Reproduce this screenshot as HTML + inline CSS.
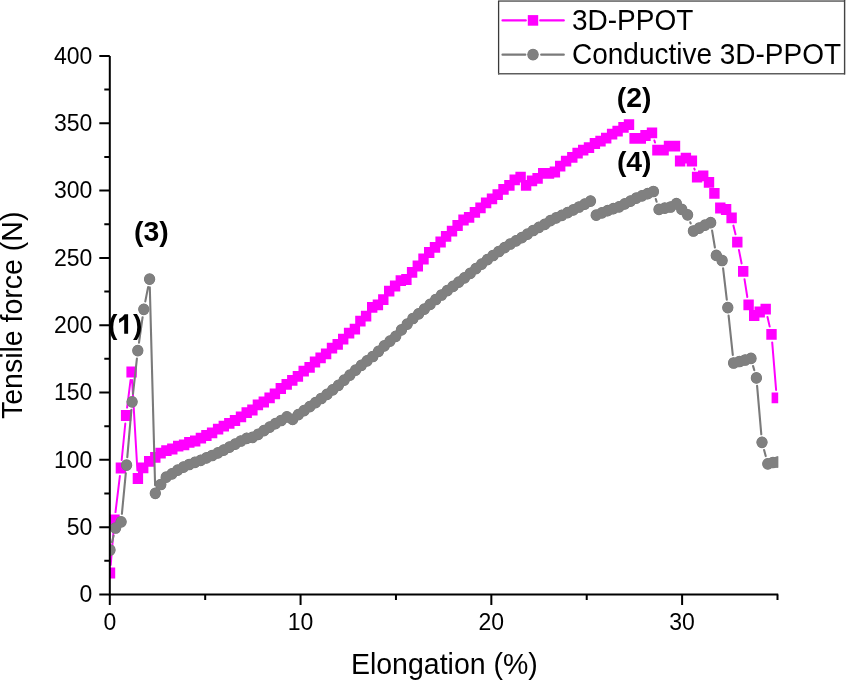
<!DOCTYPE html>
<html><head><meta charset="utf-8"><style>
html,body{margin:0;padding:0;background:#fff;}
body{width:846px;height:681px;overflow:hidden;}
svg{display:block;will-change:transform;font-family:"Liberation Sans",sans-serif;}
</style></head><body>
<svg width="846" height="681" viewBox="0 0 846 681">
<defs><clipPath id="c"><rect x="109.8" y="40" width="668.4" height="554.5"/></clipPath></defs>
<g clip-path="url(#c)">
<path d="M110.7 565.0L113.8 528.0M115.5 512.1L119.9 475.9M121.7 460.0L125.3 423.5M127.1 407.6L130.6 379.9M132.1 380.0L137.4 470.5M654.4 140.5L655.0 142.6M694.3 168.6L694.7 169.6M733.4 225.6L735.5 234.3M738.9 249.9L741.6 263.5M744.5 279.2L747.3 297.0M767.5 317.0L769.7 326.6M772.2 342.4L776.1 389.9" stroke="#ff00ff" stroke-width="2" stroke-linecap="round" fill="none"/>
<path d="M104.80 567.60h10.4v10.8h-10.4zM109.30 514.60h10.4v10.8h-10.4zM115.70 462.60h10.4v10.8h-10.4zM120.90 410.10h10.4v10.8h-10.4zM126.40 366.60h10.4v10.8h-10.4zM132.70 473.10h10.4v10.8h-10.4zM138.00 462.50h10.4v10.8h-10.4zM144.00 455.90h10.4v10.8h-10.4zM150.10 451.90h10.4v10.8h-10.4zM155.40 447.80h10.4v10.8h-10.4zM161.20 445.20h10.4v10.8h-10.4zM167.10 443.60h10.4v10.8h-10.4zM173.00 440.70h10.4v10.8h-10.4zM178.90 439.50h10.4v10.8h-10.4zM184.10 437.00h10.4v10.8h-10.4zM190.00 435.60h10.4v10.8h-10.4zM195.70 432.70h10.4v10.8h-10.4zM201.20 430.10h10.4v10.8h-10.4zM206.90 427.50h10.4v10.8h-10.4zM212.90 423.70h10.4v10.8h-10.4zM218.60 420.80h10.4v10.8h-10.4zM224.10 417.90h10.4v10.8h-10.4zM229.80 415.10h10.4v10.8h-10.4zM235.80 411.40h10.4v10.8h-10.4zM241.50 407.30h10.4v10.8h-10.4zM247.20 404.60h10.4v10.8h-10.4zM252.70 399.50h10.4v10.8h-10.4zM258.60 396.60h10.4v10.8h-10.4zM264.40 392.50h10.4v10.8h-10.4zM269.70 388.40h10.4v10.8h-10.4zM275.60 383.10h10.4v10.8h-10.4zM281.50 379.00h10.4v10.8h-10.4zM287.10 374.90h10.4v10.8h-10.4zM292.70 371.00h10.4v10.8h-10.4zM298.50 365.80h10.4v10.8h-10.4zM304.40 361.90h10.4v10.8h-10.4zM309.80 356.60h10.4v10.8h-10.4zM315.40 352.50h10.4v10.8h-10.4zM320.90 348.40h10.4v10.8h-10.4zM326.80 342.80h10.4v10.8h-10.4zM332.50 339.00h10.4v10.8h-10.4zM338.00 333.70h10.4v10.8h-10.4zM343.90 327.80h10.4v10.8h-10.4zM349.70 323.70h10.4v10.8h-10.4zM355.20 315.80h10.4v10.8h-10.4zM360.90 310.80h10.4v10.8h-10.4zM367.00 302.00h10.4v10.8h-10.4zM372.70 299.40h10.4v10.8h-10.4zM378.10 294.20h10.4v10.8h-10.4zM384.00 285.80h10.4v10.8h-10.4zM389.90 280.60h10.4v10.8h-10.4zM395.60 275.30h10.4v10.8h-10.4zM401.20 274.10h10.4v10.8h-10.4zM406.90 267.00h10.4v10.8h-10.4zM412.60 260.60h10.4v10.8h-10.4zM418.30 253.60h10.4v10.8h-10.4zM424.00 247.10h10.4v10.8h-10.4zM429.80 241.90h10.4v10.8h-10.4zM435.40 236.60h10.4v10.8h-10.4zM440.90 230.90h10.4v10.8h-10.4zM446.80 225.80h10.4v10.8h-10.4zM452.40 220.10h10.4v10.8h-10.4zM458.30 214.60h10.4v10.8h-10.4zM463.90 211.90h10.4v10.8h-10.4zM469.70 206.90h10.4v10.8h-10.4zM475.30 202.50h10.4v10.8h-10.4zM480.90 197.50h10.4v10.8h-10.4zM486.80 193.50h10.4v10.8h-10.4zM492.50 189.20h10.4v10.8h-10.4zM498.30 184.00h10.4v10.8h-10.4zM504.20 179.90h10.4v10.8h-10.4zM509.50 174.50h10.4v10.8h-10.4zM515.40 171.70h10.4v10.8h-10.4zM520.90 179.90h10.4v10.8h-10.4zM526.80 175.40h10.4v10.8h-10.4zM532.40 172.90h10.4v10.8h-10.4zM538.00 167.90h10.4v10.8h-10.4zM543.80 167.90h10.4v10.8h-10.4zM549.70 166.60h10.4v10.8h-10.4zM555.00 160.70h10.4v10.8h-10.4zM560.90 155.70h10.4v10.8h-10.4zM567.10 152.00h10.4v10.8h-10.4zM572.40 147.80h10.4v10.8h-10.4zM578.00 144.80h10.4v10.8h-10.4zM583.80 142.20h10.4v10.8h-10.4zM589.70 138.10h10.4v10.8h-10.4zM595.30 135.70h10.4v10.8h-10.4zM601.00 132.80h10.4v10.8h-10.4zM606.90 128.70h10.4v10.8h-10.4zM612.40 125.70h10.4v10.8h-10.4zM618.30 122.00h10.4v10.8h-10.4zM623.80 119.30h10.4v10.8h-10.4zM629.40 132.90h10.4v10.8h-10.4zM635.60 132.90h10.4v10.8h-10.4zM640.30 130.10h10.4v10.8h-10.4zM646.80 127.50h10.4v10.8h-10.4zM652.20 144.80h10.4v10.8h-10.4zM658.40 144.80h10.4v10.8h-10.4zM663.80 140.70h10.4v10.8h-10.4zM669.80 140.80h10.4v10.8h-10.4zM674.90 155.60h10.4v10.8h-10.4zM680.70 152.70h10.4v10.8h-10.4zM686.70 155.60h10.4v10.8h-10.4zM691.90 171.80h10.4v10.8h-10.4zM698.00 170.40h10.4v10.8h-10.4zM703.80 177.00h10.4v10.8h-10.4zM709.20 188.00h10.4v10.8h-10.4zM715.10 202.60h10.4v10.8h-10.4zM720.90 204.10h10.4v10.8h-10.4zM726.40 212.40h10.4v10.8h-10.4zM732.10 236.70h10.4v10.8h-10.4zM738.00 265.90h10.4v10.8h-10.4zM743.40 299.50h10.4v10.8h-10.4zM749.00 310.10h10.4v10.8h-10.4zM754.50 306.60h10.4v10.8h-10.4zM760.50 303.80h10.4v10.8h-10.4zM766.30 329.00h10.4v10.8h-10.4zM771.60 392.50h10.4v10.8h-10.4z" fill="#ff00ff"/>
<path d="M112.0 542.2L113.6 535.8M121.9 513.8L125.8 473.2M127.3 457.2L131.4 409.8M133.0 393.8L136.9 358.6M139.0 342.7L142.6 317.2M145.3 301.4L148.1 287.1M149.8 287.2L155.1 485.3M655.8 199.1L656.6 201.8M690.3 222.3L690.7 223.5M712.1 230.6L714.9 247.5M723.1 268.4L726.8 299.7M728.6 315.6L732.8 355.0M753.1 366.1L754.3 370.2M757.1 385.9L761.3 434.3M764.1 450.0L765.7 456.1" stroke="#7a7a7a" stroke-width="2.1" stroke-linecap="round" fill="none"/>
<path d="M104.35 550.0a5.65 5.85 0 1 0 11.30 0a5.65 5.85 0 1 0 -11.30 0zM109.95 528.0a5.65 5.85 0 1 0 11.30 0a5.65 5.85 0 1 0 -11.30 0zM115.45 521.8a5.65 5.85 0 1 0 11.30 0a5.65 5.85 0 1 0 -11.30 0zM120.95 465.2a5.65 5.85 0 1 0 11.30 0a5.65 5.85 0 1 0 -11.30 0zM126.45 401.8a5.65 5.85 0 1 0 11.30 0a5.65 5.85 0 1 0 -11.30 0zM132.15 350.6a5.65 5.85 0 1 0 11.30 0a5.65 5.85 0 1 0 -11.30 0zM138.15 309.3a5.65 5.85 0 1 0 11.30 0a5.65 5.85 0 1 0 -11.30 0zM143.95 279.2a5.65 5.85 0 1 0 11.30 0a5.65 5.85 0 1 0 -11.30 0zM149.65 493.3a5.65 5.85 0 1 0 11.30 0a5.65 5.85 0 1 0 -11.30 0zM155.15 484.5a5.65 5.85 0 1 0 11.30 0a5.65 5.85 0 1 0 -11.30 0zM160.55 477.2a5.65 5.85 0 1 0 11.30 0a5.65 5.85 0 1 0 -11.30 0zM166.30 473.8a5.65 5.85 0 1 0 11.30 0a5.65 5.85 0 1 0 -11.30 0zM172.05 470.2a5.65 5.85 0 1 0 11.30 0a5.65 5.85 0 1 0 -11.30 0zM177.79 467.1a5.65 5.85 0 1 0 11.30 0a5.65 5.85 0 1 0 -11.30 0zM183.54 464.5a5.65 5.85 0 1 0 11.30 0a5.65 5.85 0 1 0 -11.30 0zM189.29 462.3a5.65 5.85 0 1 0 11.30 0a5.65 5.85 0 1 0 -11.30 0zM195.04 460.3a5.65 5.85 0 1 0 11.30 0a5.65 5.85 0 1 0 -11.30 0zM200.78 457.9a5.65 5.85 0 1 0 11.30 0a5.65 5.85 0 1 0 -11.30 0zM206.53 455.5a5.65 5.85 0 1 0 11.30 0a5.65 5.85 0 1 0 -11.30 0zM212.28 452.9a5.65 5.85 0 1 0 11.30 0a5.65 5.85 0 1 0 -11.30 0zM218.03 450.1a5.65 5.85 0 1 0 11.30 0a5.65 5.85 0 1 0 -11.30 0zM223.77 447.1a5.65 5.85 0 1 0 11.30 0a5.65 5.85 0 1 0 -11.30 0zM229.52 444.1a5.65 5.85 0 1 0 11.30 0a5.65 5.85 0 1 0 -11.30 0zM235.27 441.0a5.65 5.85 0 1 0 11.30 0a5.65 5.85 0 1 0 -11.30 0zM241.02 438.3a5.65 5.85 0 1 0 11.30 0a5.65 5.85 0 1 0 -11.30 0zM246.76 437.4a5.65 5.85 0 1 0 11.30 0a5.65 5.85 0 1 0 -11.30 0zM252.51 434.3a5.65 5.85 0 1 0 11.30 0a5.65 5.85 0 1 0 -11.30 0zM258.26 430.6a5.65 5.85 0 1 0 11.30 0a5.65 5.85 0 1 0 -11.30 0zM264.01 427.1a5.65 5.85 0 1 0 11.30 0a5.65 5.85 0 1 0 -11.30 0zM269.75 423.7a5.65 5.85 0 1 0 11.30 0a5.65 5.85 0 1 0 -11.30 0zM275.50 420.5a5.65 5.85 0 1 0 11.30 0a5.65 5.85 0 1 0 -11.30 0zM281.25 416.8a5.65 5.85 0 1 0 11.30 0a5.65 5.85 0 1 0 -11.30 0zM286.95 419.4a5.65 5.85 0 1 0 11.30 0a5.65 5.85 0 1 0 -11.30 0zM292.68 414.6a5.65 5.85 0 1 0 11.30 0a5.65 5.85 0 1 0 -11.30 0zM298.41 410.6a5.65 5.85 0 1 0 11.30 0a5.65 5.85 0 1 0 -11.30 0zM304.14 406.6a5.65 5.85 0 1 0 11.30 0a5.65 5.85 0 1 0 -11.30 0zM309.87 402.7a5.65 5.85 0 1 0 11.30 0a5.65 5.85 0 1 0 -11.30 0zM315.59 398.5a5.65 5.85 0 1 0 11.30 0a5.65 5.85 0 1 0 -11.30 0zM321.32 394.4a5.65 5.85 0 1 0 11.30 0a5.65 5.85 0 1 0 -11.30 0zM327.05 389.8a5.65 5.85 0 1 0 11.30 0a5.65 5.85 0 1 0 -11.30 0zM332.78 385.3a5.65 5.85 0 1 0 11.30 0a5.65 5.85 0 1 0 -11.30 0zM338.51 380.2a5.65 5.85 0 1 0 11.30 0a5.65 5.85 0 1 0 -11.30 0zM344.24 375.2a5.65 5.85 0 1 0 11.30 0a5.65 5.85 0 1 0 -11.30 0zM349.97 370.2a5.65 5.85 0 1 0 11.30 0a5.65 5.85 0 1 0 -11.30 0zM355.70 365.3a5.65 5.85 0 1 0 11.30 0a5.65 5.85 0 1 0 -11.30 0zM361.43 360.8a5.65 5.85 0 1 0 11.30 0a5.65 5.85 0 1 0 -11.30 0zM367.15 356.5a5.65 5.85 0 1 0 11.30 0a5.65 5.85 0 1 0 -11.30 0zM372.88 351.3a5.65 5.85 0 1 0 11.30 0a5.65 5.85 0 1 0 -11.30 0zM378.61 345.9a5.65 5.85 0 1 0 11.30 0a5.65 5.85 0 1 0 -11.30 0zM384.34 341.1a5.65 5.85 0 1 0 11.30 0a5.65 5.85 0 1 0 -11.30 0zM390.07 336.3a5.65 5.85 0 1 0 11.30 0a5.65 5.85 0 1 0 -11.30 0zM395.80 329.9a5.65 5.85 0 1 0 11.30 0a5.65 5.85 0 1 0 -11.30 0zM401.53 324.2a5.65 5.85 0 1 0 11.30 0a5.65 5.85 0 1 0 -11.30 0zM407.26 318.5a5.65 5.85 0 1 0 11.30 0a5.65 5.85 0 1 0 -11.30 0zM412.98 313.8a5.65 5.85 0 1 0 11.30 0a5.65 5.85 0 1 0 -11.30 0zM418.71 309.2a5.65 5.85 0 1 0 11.30 0a5.65 5.85 0 1 0 -11.30 0zM424.44 304.4a5.65 5.85 0 1 0 11.30 0a5.65 5.85 0 1 0 -11.30 0zM430.17 299.5a5.65 5.85 0 1 0 11.30 0a5.65 5.85 0 1 0 -11.30 0zM435.90 295.0a5.65 5.85 0 1 0 11.30 0a5.65 5.85 0 1 0 -11.30 0zM441.63 290.6a5.65 5.85 0 1 0 11.30 0a5.65 5.85 0 1 0 -11.30 0zM447.36 286.4a5.65 5.85 0 1 0 11.30 0a5.65 5.85 0 1 0 -11.30 0zM453.09 282.2a5.65 5.85 0 1 0 11.30 0a5.65 5.85 0 1 0 -11.30 0zM458.82 277.8a5.65 5.85 0 1 0 11.30 0a5.65 5.85 0 1 0 -11.30 0zM464.54 273.4a5.65 5.85 0 1 0 11.30 0a5.65 5.85 0 1 0 -11.30 0zM470.27 268.6a5.65 5.85 0 1 0 11.30 0a5.65 5.85 0 1 0 -11.30 0zM476.00 264.1a5.65 5.85 0 1 0 11.30 0a5.65 5.85 0 1 0 -11.30 0zM481.73 259.6a5.65 5.85 0 1 0 11.30 0a5.65 5.85 0 1 0 -11.30 0zM487.46 255.5a5.65 5.85 0 1 0 11.30 0a5.65 5.85 0 1 0 -11.30 0zM493.19 251.5a5.65 5.85 0 1 0 11.30 0a5.65 5.85 0 1 0 -11.30 0zM498.92 247.7a5.65 5.85 0 1 0 11.30 0a5.65 5.85 0 1 0 -11.30 0zM504.65 244.0a5.65 5.85 0 1 0 11.30 0a5.65 5.85 0 1 0 -11.30 0zM510.38 240.8a5.65 5.85 0 1 0 11.30 0a5.65 5.85 0 1 0 -11.30 0zM516.10 237.7a5.65 5.85 0 1 0 11.30 0a5.65 5.85 0 1 0 -11.30 0zM521.83 234.2a5.65 5.85 0 1 0 11.30 0a5.65 5.85 0 1 0 -11.30 0zM527.56 230.5a5.65 5.85 0 1 0 11.30 0a5.65 5.85 0 1 0 -11.30 0zM533.29 227.3a5.65 5.85 0 1 0 11.30 0a5.65 5.85 0 1 0 -11.30 0zM539.02 224.4a5.65 5.85 0 1 0 11.30 0a5.65 5.85 0 1 0 -11.30 0zM544.75 220.7a5.65 5.85 0 1 0 11.30 0a5.65 5.85 0 1 0 -11.30 0zM550.48 217.9a5.65 5.85 0 1 0 11.30 0a5.65 5.85 0 1 0 -11.30 0zM556.21 215.3a5.65 5.85 0 1 0 11.30 0a5.65 5.85 0 1 0 -11.30 0zM561.93 212.6a5.65 5.85 0 1 0 11.30 0a5.65 5.85 0 1 0 -11.30 0zM567.66 209.9a5.65 5.85 0 1 0 11.30 0a5.65 5.85 0 1 0 -11.30 0zM573.39 207.0a5.65 5.85 0 1 0 11.30 0a5.65 5.85 0 1 0 -11.30 0zM579.12 204.1a5.65 5.85 0 1 0 11.30 0a5.65 5.85 0 1 0 -11.30 0zM584.85 201.1a5.65 5.85 0 1 0 11.30 0a5.65 5.85 0 1 0 -11.30 0zM590.55 215.2a5.65 5.85 0 1 0 11.30 0a5.65 5.85 0 1 0 -11.30 0zM596.27 212.8a5.65 5.85 0 1 0 11.30 0a5.65 5.85 0 1 0 -11.30 0zM601.99 210.7a5.65 5.85 0 1 0 11.30 0a5.65 5.85 0 1 0 -11.30 0zM607.71 208.7a5.65 5.85 0 1 0 11.30 0a5.65 5.85 0 1 0 -11.30 0zM613.43 206.8a5.65 5.85 0 1 0 11.30 0a5.65 5.85 0 1 0 -11.30 0zM619.15 203.9a5.65 5.85 0 1 0 11.30 0a5.65 5.85 0 1 0 -11.30 0zM624.87 201.1a5.65 5.85 0 1 0 11.30 0a5.65 5.85 0 1 0 -11.30 0zM630.59 198.2a5.65 5.85 0 1 0 11.30 0a5.65 5.85 0 1 0 -11.30 0zM636.31 195.8a5.65 5.85 0 1 0 11.30 0a5.65 5.85 0 1 0 -11.30 0zM642.03 193.7a5.65 5.85 0 1 0 11.30 0a5.65 5.85 0 1 0 -11.30 0zM647.75 191.5a5.65 5.85 0 1 0 11.30 0a5.65 5.85 0 1 0 -11.30 0zM653.35 209.4a5.65 5.85 0 1 0 11.30 0a5.65 5.85 0 1 0 -11.30 0zM659.15 208.2a5.65 5.85 0 1 0 11.30 0a5.65 5.85 0 1 0 -11.30 0zM664.95 207.0a5.65 5.85 0 1 0 11.30 0a5.65 5.85 0 1 0 -11.30 0zM670.75 203.7a5.65 5.85 0 1 0 11.30 0a5.65 5.85 0 1 0 -11.30 0zM676.15 209.4a5.65 5.85 0 1 0 11.30 0a5.65 5.85 0 1 0 -11.30 0zM681.95 214.8a5.65 5.85 0 1 0 11.30 0a5.65 5.85 0 1 0 -11.30 0zM687.75 231.0a5.65 5.85 0 1 0 11.30 0a5.65 5.85 0 1 0 -11.30 0zM693.55 228.1a5.65 5.85 0 1 0 11.30 0a5.65 5.85 0 1 0 -11.30 0zM699.35 225.2a5.65 5.85 0 1 0 11.30 0a5.65 5.85 0 1 0 -11.30 0zM705.05 222.7a5.65 5.85 0 1 0 11.30 0a5.65 5.85 0 1 0 -11.30 0zM710.65 255.4a5.65 5.85 0 1 0 11.30 0a5.65 5.85 0 1 0 -11.30 0zM716.45 260.5a5.65 5.85 0 1 0 11.30 0a5.65 5.85 0 1 0 -11.30 0zM722.15 307.6a5.65 5.85 0 1 0 11.30 0a5.65 5.85 0 1 0 -11.30 0zM727.95 363.0a5.65 5.85 0 1 0 11.30 0a5.65 5.85 0 1 0 -11.30 0zM733.85 361.5a5.65 5.85 0 1 0 11.30 0a5.65 5.85 0 1 0 -11.30 0zM739.55 360.0a5.65 5.85 0 1 0 11.30 0a5.65 5.85 0 1 0 -11.30 0zM745.35 358.4a5.65 5.85 0 1 0 11.30 0a5.65 5.85 0 1 0 -11.30 0zM750.75 377.9a5.65 5.85 0 1 0 11.30 0a5.65 5.85 0 1 0 -11.30 0zM756.35 442.3a5.65 5.85 0 1 0 11.30 0a5.65 5.85 0 1 0 -11.30 0zM762.15 463.8a5.65 5.85 0 1 0 11.30 0a5.65 5.85 0 1 0 -11.30 0zM767.35 462.5a5.65 5.85 0 1 0 11.30 0a5.65 5.85 0 1 0 -11.30 0zM772.15 462.0a5.65 5.85 0 1 0 11.30 0a5.65 5.85 0 1 0 -11.30 0z" fill="#747474"/>
<path d="M104.70 550.0a5.30 5.50 0 1 0 10.60 0a5.30 5.50 0 1 0 -10.60 0zM110.30 528.0a5.30 5.50 0 1 0 10.60 0a5.30 5.50 0 1 0 -10.60 0zM115.80 521.8a5.30 5.50 0 1 0 10.60 0a5.30 5.50 0 1 0 -10.60 0zM121.30 465.2a5.30 5.50 0 1 0 10.60 0a5.30 5.50 0 1 0 -10.60 0zM126.80 401.8a5.30 5.50 0 1 0 10.60 0a5.30 5.50 0 1 0 -10.60 0zM132.50 350.6a5.30 5.50 0 1 0 10.60 0a5.30 5.50 0 1 0 -10.60 0zM138.50 309.3a5.30 5.50 0 1 0 10.60 0a5.30 5.50 0 1 0 -10.60 0zM144.30 279.2a5.30 5.50 0 1 0 10.60 0a5.30 5.50 0 1 0 -10.60 0zM150.00 493.3a5.30 5.50 0 1 0 10.60 0a5.30 5.50 0 1 0 -10.60 0zM155.50 484.5a5.30 5.50 0 1 0 10.60 0a5.30 5.50 0 1 0 -10.60 0zM160.90 477.2a5.30 5.50 0 1 0 10.60 0a5.30 5.50 0 1 0 -10.60 0zM166.65 473.8a5.30 5.50 0 1 0 10.60 0a5.30 5.50 0 1 0 -10.60 0zM172.40 470.2a5.30 5.50 0 1 0 10.60 0a5.30 5.50 0 1 0 -10.60 0zM178.14 467.1a5.30 5.50 0 1 0 10.60 0a5.30 5.50 0 1 0 -10.60 0zM183.89 464.5a5.30 5.50 0 1 0 10.60 0a5.30 5.50 0 1 0 -10.60 0zM189.64 462.3a5.30 5.50 0 1 0 10.60 0a5.30 5.50 0 1 0 -10.60 0zM195.39 460.3a5.30 5.50 0 1 0 10.60 0a5.30 5.50 0 1 0 -10.60 0zM201.13 457.9a5.30 5.50 0 1 0 10.60 0a5.30 5.50 0 1 0 -10.60 0zM206.88 455.5a5.30 5.50 0 1 0 10.60 0a5.30 5.50 0 1 0 -10.60 0zM212.63 452.9a5.30 5.50 0 1 0 10.60 0a5.30 5.50 0 1 0 -10.60 0zM218.38 450.1a5.30 5.50 0 1 0 10.60 0a5.30 5.50 0 1 0 -10.60 0zM224.12 447.1a5.30 5.50 0 1 0 10.60 0a5.30 5.50 0 1 0 -10.60 0zM229.87 444.1a5.30 5.50 0 1 0 10.60 0a5.30 5.50 0 1 0 -10.60 0zM235.62 441.0a5.30 5.50 0 1 0 10.60 0a5.30 5.50 0 1 0 -10.60 0zM241.37 438.3a5.30 5.50 0 1 0 10.60 0a5.30 5.50 0 1 0 -10.60 0zM247.11 437.4a5.30 5.50 0 1 0 10.60 0a5.30 5.50 0 1 0 -10.60 0zM252.86 434.3a5.30 5.50 0 1 0 10.60 0a5.30 5.50 0 1 0 -10.60 0zM258.61 430.6a5.30 5.50 0 1 0 10.60 0a5.30 5.50 0 1 0 -10.60 0zM264.36 427.1a5.30 5.50 0 1 0 10.60 0a5.30 5.50 0 1 0 -10.60 0zM270.10 423.7a5.30 5.50 0 1 0 10.60 0a5.30 5.50 0 1 0 -10.60 0zM275.85 420.5a5.30 5.50 0 1 0 10.60 0a5.30 5.50 0 1 0 -10.60 0zM281.60 416.8a5.30 5.50 0 1 0 10.60 0a5.30 5.50 0 1 0 -10.60 0zM287.30 419.4a5.30 5.50 0 1 0 10.60 0a5.30 5.50 0 1 0 -10.60 0zM293.03 414.6a5.30 5.50 0 1 0 10.60 0a5.30 5.50 0 1 0 -10.60 0zM298.76 410.6a5.30 5.50 0 1 0 10.60 0a5.30 5.50 0 1 0 -10.60 0zM304.49 406.6a5.30 5.50 0 1 0 10.60 0a5.30 5.50 0 1 0 -10.60 0zM310.22 402.7a5.30 5.50 0 1 0 10.60 0a5.30 5.50 0 1 0 -10.60 0zM315.94 398.5a5.30 5.50 0 1 0 10.60 0a5.30 5.50 0 1 0 -10.60 0zM321.67 394.4a5.30 5.50 0 1 0 10.60 0a5.30 5.50 0 1 0 -10.60 0zM327.40 389.8a5.30 5.50 0 1 0 10.60 0a5.30 5.50 0 1 0 -10.60 0zM333.13 385.3a5.30 5.50 0 1 0 10.60 0a5.30 5.50 0 1 0 -10.60 0zM338.86 380.2a5.30 5.50 0 1 0 10.60 0a5.30 5.50 0 1 0 -10.60 0zM344.59 375.2a5.30 5.50 0 1 0 10.60 0a5.30 5.50 0 1 0 -10.60 0zM350.32 370.2a5.30 5.50 0 1 0 10.60 0a5.30 5.50 0 1 0 -10.60 0zM356.05 365.3a5.30 5.50 0 1 0 10.60 0a5.30 5.50 0 1 0 -10.60 0zM361.78 360.8a5.30 5.50 0 1 0 10.60 0a5.30 5.50 0 1 0 -10.60 0zM367.50 356.5a5.30 5.50 0 1 0 10.60 0a5.30 5.50 0 1 0 -10.60 0zM373.23 351.3a5.30 5.50 0 1 0 10.60 0a5.30 5.50 0 1 0 -10.60 0zM378.96 345.9a5.30 5.50 0 1 0 10.60 0a5.30 5.50 0 1 0 -10.60 0zM384.69 341.1a5.30 5.50 0 1 0 10.60 0a5.30 5.50 0 1 0 -10.60 0zM390.42 336.3a5.30 5.50 0 1 0 10.60 0a5.30 5.50 0 1 0 -10.60 0zM396.15 329.9a5.30 5.50 0 1 0 10.60 0a5.30 5.50 0 1 0 -10.60 0zM401.88 324.2a5.30 5.50 0 1 0 10.60 0a5.30 5.50 0 1 0 -10.60 0zM407.61 318.5a5.30 5.50 0 1 0 10.60 0a5.30 5.50 0 1 0 -10.60 0zM413.33 313.8a5.30 5.50 0 1 0 10.60 0a5.30 5.50 0 1 0 -10.60 0zM419.06 309.2a5.30 5.50 0 1 0 10.60 0a5.30 5.50 0 1 0 -10.60 0zM424.79 304.4a5.30 5.50 0 1 0 10.60 0a5.30 5.50 0 1 0 -10.60 0zM430.52 299.5a5.30 5.50 0 1 0 10.60 0a5.30 5.50 0 1 0 -10.60 0zM436.25 295.0a5.30 5.50 0 1 0 10.60 0a5.30 5.50 0 1 0 -10.60 0zM441.98 290.6a5.30 5.50 0 1 0 10.60 0a5.30 5.50 0 1 0 -10.60 0zM447.71 286.4a5.30 5.50 0 1 0 10.60 0a5.30 5.50 0 1 0 -10.60 0zM453.44 282.2a5.30 5.50 0 1 0 10.60 0a5.30 5.50 0 1 0 -10.60 0zM459.17 277.8a5.30 5.50 0 1 0 10.60 0a5.30 5.50 0 1 0 -10.60 0zM464.89 273.4a5.30 5.50 0 1 0 10.60 0a5.30 5.50 0 1 0 -10.60 0zM470.62 268.6a5.30 5.50 0 1 0 10.60 0a5.30 5.50 0 1 0 -10.60 0zM476.35 264.1a5.30 5.50 0 1 0 10.60 0a5.30 5.50 0 1 0 -10.60 0zM482.08 259.6a5.30 5.50 0 1 0 10.60 0a5.30 5.50 0 1 0 -10.60 0zM487.81 255.5a5.30 5.50 0 1 0 10.60 0a5.30 5.50 0 1 0 -10.60 0zM493.54 251.5a5.30 5.50 0 1 0 10.60 0a5.30 5.50 0 1 0 -10.60 0zM499.27 247.7a5.30 5.50 0 1 0 10.60 0a5.30 5.50 0 1 0 -10.60 0zM505.00 244.0a5.30 5.50 0 1 0 10.60 0a5.30 5.50 0 1 0 -10.60 0zM510.72 240.8a5.30 5.50 0 1 0 10.60 0a5.30 5.50 0 1 0 -10.60 0zM516.45 237.7a5.30 5.50 0 1 0 10.60 0a5.30 5.50 0 1 0 -10.60 0zM522.18 234.2a5.30 5.50 0 1 0 10.60 0a5.30 5.50 0 1 0 -10.60 0zM527.91 230.5a5.30 5.50 0 1 0 10.60 0a5.30 5.50 0 1 0 -10.60 0zM533.64 227.3a5.30 5.50 0 1 0 10.60 0a5.30 5.50 0 1 0 -10.60 0zM539.37 224.4a5.30 5.50 0 1 0 10.60 0a5.30 5.50 0 1 0 -10.60 0zM545.10 220.7a5.30 5.50 0 1 0 10.60 0a5.30 5.50 0 1 0 -10.60 0zM550.83 217.9a5.30 5.50 0 1 0 10.60 0a5.30 5.50 0 1 0 -10.60 0zM556.56 215.3a5.30 5.50 0 1 0 10.60 0a5.30 5.50 0 1 0 -10.60 0zM562.28 212.6a5.30 5.50 0 1 0 10.60 0a5.30 5.50 0 1 0 -10.60 0zM568.01 209.9a5.30 5.50 0 1 0 10.60 0a5.30 5.50 0 1 0 -10.60 0zM573.74 207.0a5.30 5.50 0 1 0 10.60 0a5.30 5.50 0 1 0 -10.60 0zM579.47 204.1a5.30 5.50 0 1 0 10.60 0a5.30 5.50 0 1 0 -10.60 0zM585.20 201.1a5.30 5.50 0 1 0 10.60 0a5.30 5.50 0 1 0 -10.60 0zM590.90 215.2a5.30 5.50 0 1 0 10.60 0a5.30 5.50 0 1 0 -10.60 0zM596.62 212.8a5.30 5.50 0 1 0 10.60 0a5.30 5.50 0 1 0 -10.60 0zM602.34 210.7a5.30 5.50 0 1 0 10.60 0a5.30 5.50 0 1 0 -10.60 0zM608.06 208.7a5.30 5.50 0 1 0 10.60 0a5.30 5.50 0 1 0 -10.60 0zM613.78 206.8a5.30 5.50 0 1 0 10.60 0a5.30 5.50 0 1 0 -10.60 0zM619.50 203.9a5.30 5.50 0 1 0 10.60 0a5.30 5.50 0 1 0 -10.60 0zM625.22 201.1a5.30 5.50 0 1 0 10.60 0a5.30 5.50 0 1 0 -10.60 0zM630.94 198.2a5.30 5.50 0 1 0 10.60 0a5.30 5.50 0 1 0 -10.60 0zM636.66 195.8a5.30 5.50 0 1 0 10.60 0a5.30 5.50 0 1 0 -10.60 0zM642.38 193.7a5.30 5.50 0 1 0 10.60 0a5.30 5.50 0 1 0 -10.60 0zM648.10 191.5a5.30 5.50 0 1 0 10.60 0a5.30 5.50 0 1 0 -10.60 0zM653.70 209.4a5.30 5.50 0 1 0 10.60 0a5.30 5.50 0 1 0 -10.60 0zM659.50 208.2a5.30 5.50 0 1 0 10.60 0a5.30 5.50 0 1 0 -10.60 0zM665.30 207.0a5.30 5.50 0 1 0 10.60 0a5.30 5.50 0 1 0 -10.60 0zM671.10 203.7a5.30 5.50 0 1 0 10.60 0a5.30 5.50 0 1 0 -10.60 0zM676.50 209.4a5.30 5.50 0 1 0 10.60 0a5.30 5.50 0 1 0 -10.60 0zM682.30 214.8a5.30 5.50 0 1 0 10.60 0a5.30 5.50 0 1 0 -10.60 0zM688.10 231.0a5.30 5.50 0 1 0 10.60 0a5.30 5.50 0 1 0 -10.60 0zM693.90 228.1a5.30 5.50 0 1 0 10.60 0a5.30 5.50 0 1 0 -10.60 0zM699.70 225.2a5.30 5.50 0 1 0 10.60 0a5.30 5.50 0 1 0 -10.60 0zM705.40 222.7a5.30 5.50 0 1 0 10.60 0a5.30 5.50 0 1 0 -10.60 0zM711.00 255.4a5.30 5.50 0 1 0 10.60 0a5.30 5.50 0 1 0 -10.60 0zM716.80 260.5a5.30 5.50 0 1 0 10.60 0a5.30 5.50 0 1 0 -10.60 0zM722.50 307.6a5.30 5.50 0 1 0 10.60 0a5.30 5.50 0 1 0 -10.60 0zM728.30 363.0a5.30 5.50 0 1 0 10.60 0a5.30 5.50 0 1 0 -10.60 0zM734.20 361.5a5.30 5.50 0 1 0 10.60 0a5.30 5.50 0 1 0 -10.60 0zM739.90 360.0a5.30 5.50 0 1 0 10.60 0a5.30 5.50 0 1 0 -10.60 0zM745.70 358.4a5.30 5.50 0 1 0 10.60 0a5.30 5.50 0 1 0 -10.60 0zM751.10 377.9a5.30 5.50 0 1 0 10.60 0a5.30 5.50 0 1 0 -10.60 0zM756.70 442.3a5.30 5.50 0 1 0 10.60 0a5.30 5.50 0 1 0 -10.60 0zM762.50 463.8a5.30 5.50 0 1 0 10.60 0a5.30 5.50 0 1 0 -10.60 0zM767.70 462.5a5.30 5.50 0 1 0 10.60 0a5.30 5.50 0 1 0 -10.60 0zM772.50 462.0a5.30 5.50 0 1 0 10.60 0a5.30 5.50 0 1 0 -10.60 0z" fill="#808080"/>
</g>
<path d="M109.8 55.90V594.5H778.2" stroke="#000" stroke-width="2" fill="none"/>
<path d="M99.3 594.50h10.5M104.3 560.84h5.5M99.3 527.17h10.5M104.3 493.51h5.5M99.3 459.85h10.5M104.3 426.19h5.5M99.3 392.52h10.5M104.3 358.86h5.5M99.3 325.20h10.5M104.3 291.54h5.5M99.3 257.88h10.5M104.3 224.21h5.5M99.3 190.55h10.5M104.3 156.89h5.5M99.3 123.22h10.5M104.3 89.56h5.5M99.3 55.90h10.5M109.80 594.5v10.5M205.19 594.5v5.5M300.57 594.5v10.5M395.96 594.5v5.5M491.34 594.5v10.5M586.73 594.5v5.5M682.11 594.5v10.5M777.50 594.5v5.5" stroke="#000" stroke-width="2" fill="none"/>
<g font-size="23" text-anchor="end" fill="#000"><text x="92.3" y="602.2">0</text><text x="92.3" y="534.9">50</text><text x="92.3" y="467.6">100</text><text x="92.3" y="400.2">150</text><text x="92.3" y="332.9">200</text><text x="92.3" y="265.6">250</text><text x="92.3" y="198.2">300</text><text x="92.3" y="130.9">350</text><text x="92.3" y="63.6">400</text></g>
<g font-size="23" text-anchor="middle" fill="#000"><text x="109.8" y="630.4">0</text><text x="300.6" y="630.4">10</text><text x="491.3" y="630.4">20</text><text x="682.1" y="630.4">30</text></g>
<text transform="translate(444.4 673.6) scale(1 1.05)" font-size="28.5" text-anchor="middle">Elongation (%)</text>
<text transform="translate(22.2 315.3) rotate(-90) scale(1 1.05)" font-size="28.5" text-anchor="middle">Tensile force (N)</text>
<g font-size="27" font-weight="bold">
<text transform="translate(107.9 333.5) scale(1.05 1)">(</text>
<text transform="translate(133.1 333.5) scale(1.05 1)">)</text>
<path d="M128.1 314.3V333.8H124.2V319.6Q121.9 321.6 119.1 323.0V319.0Q122.6 317.3 124.6 314.3Z" fill="#000"/>
<text transform="translate(616.8 106.5) scale(1.05 1)">(2)</text>
<text transform="translate(134.0 241.3) scale(1.05 1)">(3)</text>
<text transform="translate(616.9 170.5) scale(1.05 1)">(4)</text>
</g>
<rect x="498.6" y="1" width="345.9" height="72.8" fill="#fff"/>
<rect x="498" y="0" width="348" height="1" fill="#8f8f8f"/>
<rect x="498" y="1" width="347" height="0.8" fill="#5e5e5e"/>
<path d="M498.6 1V74.5" stroke="#3a3a3a" stroke-width="1.3"/>
<path d="M498 73.8H845.1" stroke="#5e5e5e" stroke-width="1.5"/>
<path d="M844.45 0V74.5" stroke="#444" stroke-width="1.1"/>
<rect x="845.1" y="0" width="0.9" height="74.5" fill="#bdbdbd"/>
<path d="M502.5 20.4H525.8M540.2 20.4H563.8" stroke="#ff00ff" stroke-width="2.2" stroke-linecap="round"/>
<rect x="527.8" y="15.1" width="10.4" height="10.6" fill="#ff00ff"/>
<path d="M502.5 54.7H525.3M541.2 54.7H563.8" stroke="#7a7a7a" stroke-width="2.2" stroke-linecap="round"/>
<ellipse cx="533" cy="54.6" rx="5.7" ry="5.9" fill="#747474"/><ellipse cx="533" cy="54.6" rx="5.3" ry="5.5" fill="#808080"/>
<text transform="translate(572 29.5) scale(1 1.05)" font-size="28">3D-PPOT</text>
<text transform="translate(572 63.7) scale(1 1.05)" font-size="28">Conductive 3D-PPOT</text>
</svg>
</body></html>
